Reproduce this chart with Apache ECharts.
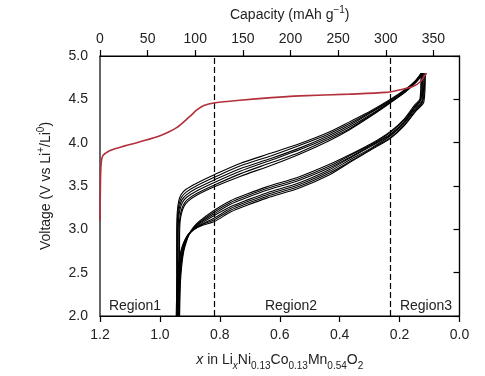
<!DOCTYPE html>
<html>
<head>
<meta charset="utf-8">
<script src="https://cdn.jsdelivr.net/npm/echarts@6/dist/echarts.min.js"></script>
<style>
  html, body { margin: 0; padding: 0; background: #fff; }
  #chart { width: 485px; height: 376px; }
</style>
</head>
<body>
<div id="chart"></div>
<script>
// [capacity mAh/g, voltage V]
const firstCharge = [[0,3.10],[0.3,3.40],[0.7,3.65],[1.5,3.79],[3,3.85],[6,3.88],[10.5,3.91],[25,3.96],[42,4.01],[63,4.08],[80,4.17],[94,4.30],[102,4.38],[109,4.43],[121,4.46],[147,4.49],[180,4.52],[210,4.54],[262,4.56],[300,4.58],[315,4.61],[329,4.65],[336,4.70],[340,4.76],[343,4.80]]

// later charges (upper bundle)
const charge1 = [[80.5,2.0],[80.5,2.9],[81,3.18],[82.5,3.32],[85,3.40],[90,3.46],[101,3.53],[120,3.63],[147,3.76],[180,3.88],[210,3.99],[240,4.12],[262,4.24],[285,4.37],[305,4.50],[320,4.61],[330,4.70],[337,4.80]]
const charge2 = [[81,2.0],[81,2.9],[81.5,3.16],[83,3.29],[85.5,3.37],[90.5,3.43],[101,3.50],[120,3.60],[147,3.73],[180,3.85],[210,3.97],[240,4.10],[262,4.22],[285,4.36],[305,4.49],[320,4.60],[330,4.70],[337.5,4.80]]
const charge3 = [[81.5,2.0],[81.5,2.9],[82,3.14],[83.5,3.26],[86,3.34],[91,3.40],[101,3.47],[120,3.57],[147,3.70],[180,3.82],[210,3.94],[240,4.08],[262,4.20],[285,4.35],[305,4.48],[320,4.60],[330.5,4.70],[338,4.80]]
const charge4 = [[82,2.0],[82,2.9],[82.5,3.12],[84,3.23],[86.5,3.31],[91,3.37],[101,3.44],[120,3.54],[147,3.67],[180,3.80],[210,3.92],[240,4.06],[262,4.18],[285,4.33],[305,4.47],[320,4.59],[330.5,4.69],[338.5,4.80]]
const charge5 = [[83,2.0],[83,2.9],[83.5,3.10],[85,3.20],[87.5,3.28],[91.5,3.34],[101,3.41],[120,3.51],[147,3.64],[180,3.77],[210,3.89],[240,4.04],[262,4.16],[285,4.32],[305,4.47],[320,4.58],[331,4.69],[339,4.80]]
const charge6 = [[83.5,2.0],[83.5,2.9],[84,3.08],[85.5,3.18],[88,3.26],[92,3.32],[101,3.39],[120,3.49],[147,3.61],[180,3.74],[210,3.87],[240,4.02],[262,4.15],[285,4.31],[305,4.46],[320,4.58],[331,4.69],[340,4.80]]

// discharges (lower bundle)
const discharge1 = [[83.5,2.00],[84.5,2.40],[86,2.60],[88,2.75],[90.5,2.85],[93.5,2.94],[98,3.02],[104,3.09],[120,3.22],[137,3.33],[155,3.41],[175,3.49],[210,3.61],[241,3.75],[262,3.86],[285,3.99],[305,4.13],[319,4.27],[330,4.43],[336,4.51],[337,4.80]]
const discharge2 = [[83,2.00],[84,2.40],[85.5,2.60],[87.5,2.75],[90,2.85],[93.5,2.94],[98,3.02],[104.5,3.08],[120,3.20],[137,3.31],[155,3.39],[175,3.47],[210,3.59],[241,3.73],[262,3.85],[285,3.98],[305,4.12],[319,4.26],[330.5,4.42],[336.5,4.50],[337.5,4.80]]
const discharge3 = [[82.5,2.00],[83.5,2.40],[85,2.60],[87,2.74],[89.5,2.85],[93,2.94],[98.5,3.01],[104.5,3.07],[120,3.18],[137,3.29],[155,3.37],[175,3.45],[210,3.57],[241,3.71],[262,3.83],[285,3.97],[305,4.10],[319,4.24],[330.5,4.41],[337,4.50],[338.5,4.80]]
const discharge4 = [[82,2.00],[83,2.40],[84.5,2.60],[86.5,2.74],[89,2.85],[92.5,2.94],[98.5,3.01],[105,3.06],[120,3.16],[137,3.26],[155,3.34],[175,3.42],[210,3.54],[241,3.69],[262,3.82],[285,3.96],[305,4.09],[319,4.23],[331,4.40],[338,4.49],[339,4.80]]
const discharge5 = [[81.5,2.00],[82.5,2.40],[84,2.60],[86,2.74],[88.5,2.84],[92.5,2.93],[99,3.01],[105.5,3.05],[120,3.13],[137,3.24],[155,3.32],[175,3.40],[210,3.52],[241,3.67],[262,3.80],[285,3.94],[305,4.08],[319,4.22],[331.5,4.39],[338.5,4.48],[340,4.80]]
const discharge6 = [[81,2.00],[82,2.40],[83.5,2.60],[85,2.73],[88,2.84],[92,2.93],[99,3.00],[106,3.05],[120,3.11],[137,3.22],[155,3.30],[175,3.38],[210,3.50],[241,3.65],[262,3.78],[285,3.93],[305,4.06],[319,4.20],[332,4.38],[339,4.48],[341,4.80]]
const discharge7 = [[80,2.00],[81,2.40],[82.5,2.60],[84.5,2.73],[87.5,2.84],[92,2.93],[99,3.00],[106,3.04],[120,3.09],[137,3.20],[155,3.28],[175,3.36],[210,3.48],[241,3.63],[262,3.77],[285,3.92],[305,4.05],[319,4.19],[332,4.37],[340,4.47],[341.5,4.80]]

const regionBounds = [120, 305]   // mAh/g, dashed lines
const capacityMax = 377.4          // top axis end, lines up with x = 0

const font = 'Liberation Sans, Arial, sans-serif'
const chart = echarts.init(document.getElementById('chart'))

const cycles = [charge1, charge2, charge3, charge4, charge5, charge6,
  discharge1, discharge2, discharge3, discharge4, discharge5, discharge6, discharge7]

const blackSeries = cycles.map(d => ({
  type: 'line', xAxisIndex: 1, data: d, showSymbol: false, smooth: 0.3, silent: true,
  lineStyle: { color: '#000', width: 1.1 }
}))

const axisCommon = {
  axisLine: { lineStyle: { color: '#000', width: 1.2 } },
  axisTick: { length: 6, lineStyle: { color: '#000', width: 1.2 } },
  splitLine: { show: false },
  axisLabel: { color: '#222', fontSize: 14, fontFamily: font },
  nameTextStyle: { color: '#222', fontSize: 14, fontFamily: font }
}

chart.setOption({
  animation: false,
  grid: { left: 100, right: 25.5, top: 52.5, bottom: 60, show: true, borderColor: '#000', borderWidth: 1.2 },
  xAxis: [
    {
      ...axisCommon, type: 'value', position: 'bottom', min: 0, max: 1.2, interval: 0.2, inverse: true,
      axisLabel: { ...axisCommon.axisLabel, margin: 12, formatter: v => v.toFixed(1) },
      name: '{i|x} in Li{si|x}Ni{s|0.13}Co{s|0.13}Mn{s|0.54}O{s|2}',
      nameLocation: 'middle', nameGap: 33,
      nameTextStyle: {
        ...axisCommon.nameTextStyle, lineHeight: 22,
        rich: {
          i: { fontStyle: 'italic', fontSize: 14, fontFamily: font, color: '#222' },
          s: { fontSize: 10, verticalAlign: 'bottom', fontFamily: font, color: '#222' },
          si: { fontSize: 10, fontStyle: 'italic', verticalAlign: 'bottom', fontFamily: font, color: '#222' }
        }
      }
    },
    {
      ...axisCommon, type: 'value', position: 'top', min: 0, max: capacityMax, interval: 50,
      axisLabel: { ...axisCommon.axisLabel, margin: 10, showMaxLabel: false },
      name: 'Capacity (mAh g{sup|−1})',
      nameLocation: 'middle', nameGap: 31,
      nameTextStyle: {
        ...axisCommon.nameTextStyle, lineHeight: 20, padding: [0, 0, 0, 20],
        rich: { sup: { fontSize: 10, verticalAlign: 'top', fontFamily: font, color: '#222' } }
      }
    }
  ],
  yAxis: {
    ...axisCommon, type: 'value', min: 2, max: 5, interval: 0.5,
    axisLabel: { ...axisCommon.axisLabel, margin: 12, formatter: v => v.toFixed(1) },
    name: 'Voltage (V vs Li{sup|+}/Li{sup|0})',
    nameLocation: 'middle', nameGap: 44,
    nameTextStyle: {
      ...axisCommon.nameTextStyle, lineHeight: 20,
      rich: { sup: { fontSize: 10, verticalAlign: 'top', fontFamily: font, color: '#222' } }
    }
  },
  graphic: [
    { type: 'text', x: 135, y: 306, style: { text: 'Region1', fill: '#222', font: '14px ' + font, align: 'center', verticalAlign: 'middle' } },
    { type: 'text', x: 291, y: 306, style: { text: 'Region2', fill: '#222', font: '14px ' + font, align: 'center', verticalAlign: 'middle' } },
    { type: 'text', x: 426, y: 306, style: { text: 'Region3', fill: '#222', font: '14px ' + font, align: 'center', verticalAlign: 'middle' } }
  ],
  series: [
    {
      type: 'line', xAxisIndex: 1, data: [], silent: true,
      markLine: {
        symbol: 'none', silent: true, label: { show: false },
        lineStyle: { color: '#000', type: [6, 3], width: 1.2 },
        data: regionBounds.map(v => ({ xAxis: v }))
      }
    },
    ...blackSeries,
    {
      type: 'line', xAxisIndex: 1, data: firstCharge, showSymbol: false, smooth: 0.3, silent: true, z: 5,
      lineStyle: { color: '#b3303b', width: 1.6 }
    }
  ]
})
</script>
</body>
</html>
